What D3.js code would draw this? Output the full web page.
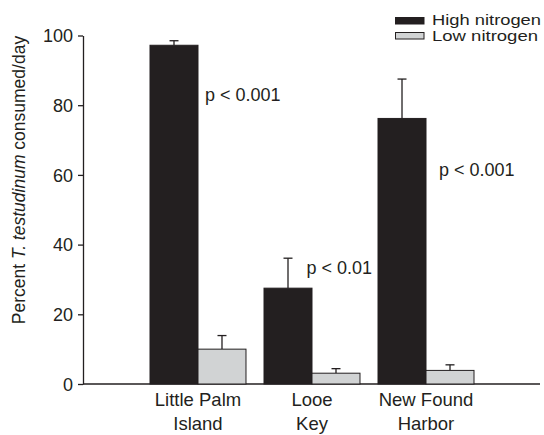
<!DOCTYPE html>
<html>
<head>
<meta charset="utf-8">
<script src="https://cdn.jsdelivr.net/npm/d3@7"></script>
<style>
  html, body { margin: 0; padding: 0; background: #fff; }
  svg text { font-family: "Liberation Sans", Arial, Helvetica, sans-serif; fill: #231f20; }
</style>
</head>
<body>
<svg id="chart" width="544" height="435"></svg>
<script>
const categories = [["Little Palm", "Island"], ["Looe", "Key"], ["New Found", "Harbor"]];
const categoryKeys = ["Little Palm Island", "Looe Key", "New Found Harbor"];
const seriesNames = ["High nitrogen", "Low nitrogen"];
const highValues = [97.2, 27.5, 76.2];
const highErrors = [1.3, 8.6, 11.3];
const lowValues = [10.0, 3.1, 3.9];
const lowErrors = [3.9, 1.3, 1.6];
const pLabels = ["p < 0.001", "p < 0.01", "p < 0.001"];
const pLabelValues = [83, 33.5, 61.5];
const yTicks = [0, 20, 40, 60, 80, 100];

const ink = "#231f20";
const colors = ["#231f20", "#d1d3d4"];

const svg = d3.select("#chart");
const y = d3.scaleLinear().domain([0, 100]).range([384, 35.5]);
const x0 = d3.scaleBand().domain(categoryKeys).range([150, 474]).paddingInner(0.158).paddingOuter(0);
const x1 = d3.scaleBand().domain(seriesNames).range([0, x0.bandwidth()]).padding(0);

// Y axis
const yAxis = d3.axisLeft(y).tickValues(yTicks).tickSize(5).tickPadding(5).tickSizeOuter(0);
const gy = svg.append("g").attr("transform", "translate(83,0)").call(yAxis);
gy.select(".domain").attr("stroke", ink).attr("stroke-width", 1.3);
gy.selectAll(".tick line").attr("stroke", ink).attr("stroke-width", 1.3);
gy.selectAll(".tick text").style("font-size", "18px").attr("fill", ink).attr("dy", "0.35em")
  .style("font-family", "'Liberation Sans', Arial, sans-serif");

// X axis baseline
svg.append("line").attr("x1", 83).attr("x2", 540).attr("y1", y(0)).attr("y2", y(0))
  .attr("stroke", ink).attr("stroke-width", 1.3);

// Bars
const data = categoryKeys.map((k, i) => ({
  key: k,
  bars: [
    { s: seriesNames[0], v: highValues[i], e: highErrors[i] },
    { s: seriesNames[1], v: lowValues[i], e: lowErrors[i] }
  ]
}));
const groups = svg.selectAll("g.grp").data(data).enter().append("g")
  .attr("class", "grp").attr("transform", d => `translate(${x0(d.key)},0)`);

groups.selectAll("g.err").data(d => d.bars).enter().append("g").attr("class", "err").each(function(d) {
  const g = d3.select(this);
  const cx = x1(d.s) + x1.bandwidth() / 2;
  g.append("line").attr("x1", cx).attr("x2", cx).attr("y1", y(d.v)).attr("y2", y(d.v + d.e))
    .attr("stroke", ink).attr("stroke-width", 1.3);
  g.append("line").attr("x1", cx - 4.5).attr("x2", cx + 4.5).attr("y1", y(d.v + d.e)).attr("y2", y(d.v + d.e))
    .attr("stroke", ink).attr("stroke-width", 1.3);
});

groups.selectAll("rect").data(d => d.bars).enter().append("rect")
  .attr("x", d => x1(d.s))
  .attr("y", d => y(d.v))
  .attr("width", x1.bandwidth())
  .attr("height", d => y(0) - y(d.v))
  .attr("fill", (d, i) => colors[i])
  .attr("stroke", ink).attr("stroke-width", 1);

// Category labels
categories.forEach((lines, i) => {
  const cx = x0(categoryKeys[i]) + x0.bandwidth() / 2;
  lines.forEach((t, j) => {
    svg.append("text").attr("x", cx).attr("y", 406 + j * 24)
      .attr("text-anchor", "middle").style("font-size", "18.5px").text(t);
  });
});

// p labels
const pX = [205, 306.5, 439];
pLabels.forEach((t, i) => {
  svg.append("text").attr("x", pX[i]).attr("y", y(pLabelValues[i]) + 6.5)
    .style("font-size", "18px").text(t);
});

// Y axis title
const yt = svg.append("text").attr("transform", "translate(25,180) rotate(-90)")
  .attr("text-anchor", "middle").style("font-size", "17.5px");
yt.append("tspan").text("Percent ");
yt.append("tspan").style("font-style", "italic").text("T. testudinum");
yt.append("tspan").text(" consumed/day");

// Legend
const legend = svg.append("g");
const legendWidths = [109, 106];
seriesNames.forEach((s, i) => {
  legend.append("rect").attr("x", 395.5).attr("y", 17.5 + i * 15).attr("width", 28.5).attr("height", 6.5)
    .attr("fill", colors[i]).attr("stroke", ink).attr("stroke-width", 1);
  legend.append("text").attr("x", 432).attr("y", 24.5 + i * 16)
    .style("font-size", "14px")
    .attr("textLength", legendWidths[i]).attr("lengthAdjust", "spacingAndGlyphs")
    .text(s);
});
</script>
</body>
</html>
